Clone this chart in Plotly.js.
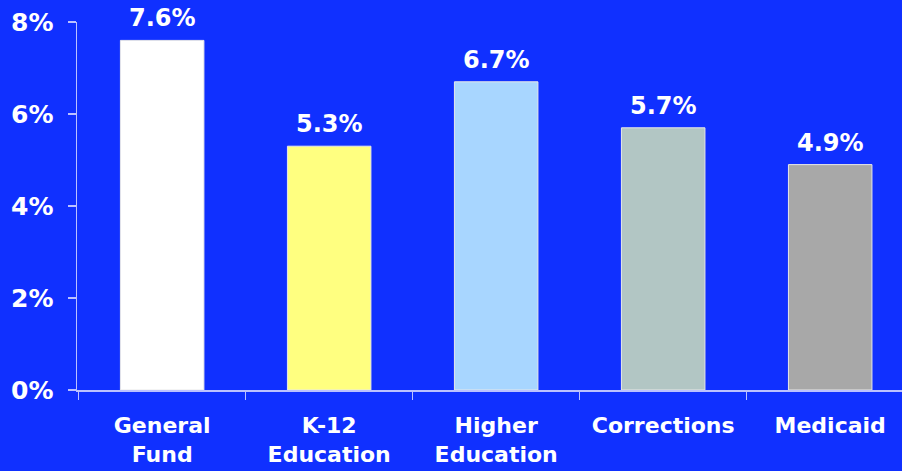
<!DOCTYPE html>
<html><head><meta charset="utf-8">
<script src="https://cdn.plot.ly/plotly-3.0.1.min.js"></script>
<style>html,body{margin:0;padding:0;background:#1030FF;}</style>
</head><body>
<div id="chart" style="width:902px;height:471px;"></div>
<script>
const categories = ["General<br>Fund", "K-12<br>Education", "Higher<br>Education", "Corrections", "Medicaid"];
const values = [7.6, 5.3, 6.7, 5.7, 4.9];
const labels = ["7.6%", "5.3%", "6.7%", "5.7%", "4.9%"];
const barColors = ["#FFFFFF", "#FFFF80", "#A8D6FF", "#B2C6C4", "#A8A8A8"];
const yTicks = [0, 2, 4, 6, 8];
const yTickText = ["0%", "2%", "4%", "6%", "8%"];

const font = "DejaVu Sans, Verdana, sans-serif";
const trace = {
  type: "bar", x: categories, y: values, width: 0.5,
  marker: {color: barColors, line: {color: "#E8E8E8", width: 1}},
  hoverinfo: "none"
};
const annotations = categories.map((c, i) => ({
  x: c, y: values[i], text: "<b>" + labels[i] + "</b>", showarrow: false,
  yanchor: "bottom", yshift: 6, font: {family: font, size: 24, color: "#FFFFFF"}
}));
const layout = {
  width: 902, height: 471,
  margin: {l: 77, r: 0, t: 22, b: 81},
  paper_bgcolor: "#1030FF", plot_bgcolor: "#1030FF",
  showlegend: false,
  xaxis: {
    range: [-0.51, 4.43], showgrid: false, zeroline: false,
    showline: true, linecolor: "rgba(230,230,255,0.8)", linewidth: 1.5,
    ticks: "outside", tickson: "boundaries", ticklen: 8, tickcolor: "rgba(230,230,255,0.8)", tickwidth: 1.5,
    ticklabelstandoff: 15,
    tickfont: {family: font, size: 22, color: "#FFFFFF", weight: "bold"},
    fixedrange: true
  },
  yaxis: {
    range: [0, 8], showgrid: false, zeroline: false,
    showline: true, linecolor: "rgba(230,230,255,0.8)", linewidth: 1.5,
    ticks: "outside", ticklen: 8, tickcolor: "rgba(230,230,255,0.8)", tickwidth: 1.5,
    tickvals: yTicks, ticktext: yTickText, ticklabelstandoff: 9,
    tickfont: {family: font, size: 25, color: "#FFFFFF", weight: "bold"},
    fixedrange: true
  },
  annotations: annotations
};
Plotly.newPlot("chart", [trace], layout, {displayModeBar: false, staticPlot: true});
</script>
</body></html>
